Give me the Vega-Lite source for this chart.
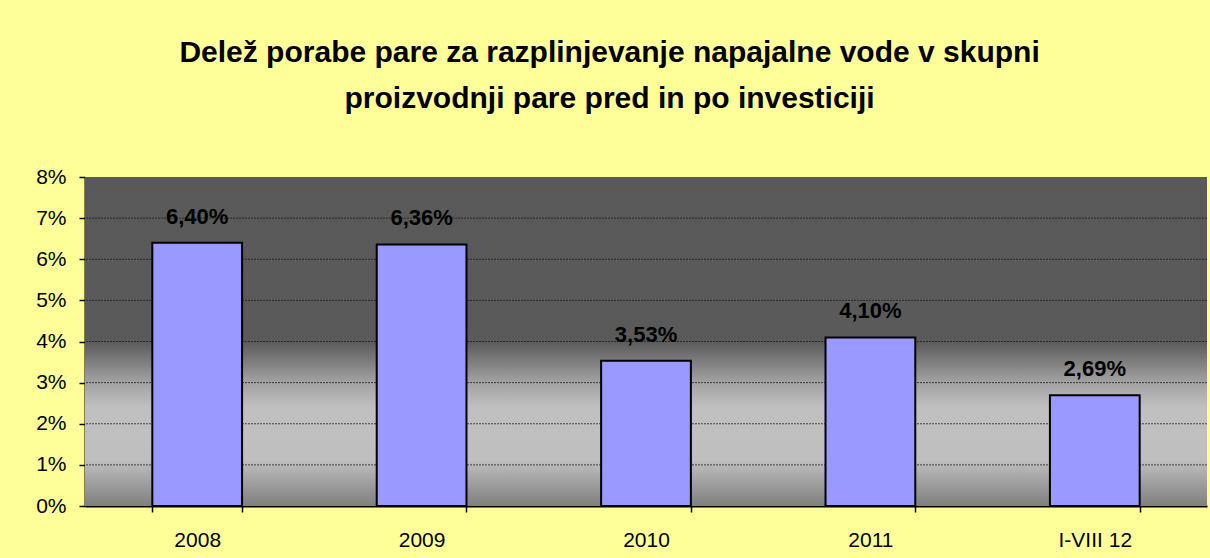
{
  "$schema": "https://vega.github.io/schema/vega-lite/v6.json",
  "autosize": {"type": "fit", "contains": "padding"},
  "width": 1210,
  "height": 558,
  "padding": {"left": 35, "top": 38, "right": 2, "bottom": 8},
  "background": "#FFFF99",
  "title": {
    "text": ["Delež porabe pare za razplinjevanje napajalne vode v skupni", "proizvodnji pare pred in po investiciji"],
    "font": "Liberation Sans",
    "fontSize": 30,
    "fontWeight": "bold",
    "color": "#000000",
    "lineHeight": 46,
    "anchor": "middle",
    "frame": "bounds",
    "dx": -12,
    "offset": 52
  },
  "data": {
    "values": [
      {"period": "2008", "share": 0.064, "label": "6,40%"},
      {"period": "2009", "share": 0.0636, "label": "6,36%"},
      {"period": "2010", "share": 0.0353, "label": "3,53%"},
      {"period": "2011", "share": 0.041, "label": "4,10%"},
      {"period": "I-VIII 12", "share": 0.0269, "label": "2,69%"}
    ]
  },
  "layer": [
    {
      "data": {"values": [{"top": 0.08, "bottom": 0}]},
      "mark": {
        "type": "rect",
        "color": {
          "gradient": "linear",
          "x1": 0, "y1": 0, "x2": 0, "y2": 1,
          "stops": [
            {"offset": 0, "color": "#595959"},
            {"offset": 0.5, "color": "#5a5a5a"},
            {"offset": 0.62, "color": "#a0a0a0"},
            {"offset": 0.7, "color": "#c0c0c0"},
            {"offset": 0.86, "color": "#bfbfbf"},
            {"offset": 1, "color": "#7f7f7f"}
          ]
        }
      },
      "encoding": {
        "y": {
          "field": "top", "type": "quantitative", "scale": {"domain": [0, 0.08]},
          "axis": {
            "title": null, "format": ".0%", "values": [0, 0.01, 0.02, 0.03, 0.04, 0.05, 0.06, 0.07, 0.08],
            "labelFont": "Liberation Sans", "labelFontSize": 21, "labelColor": "#000000",
            "domainColor": "#000000", "domainWidth": 2, "tickColor": "#000000", "tickWidth": 1.5,
            "tickSize": 6, "labelPadding": 13, "grid": false
          }
        },
        "y2": {"field": "bottom"}
      }
    },
    {
      "data": {"values": [{"g": 0.01}, {"g": 0.02}, {"g": 0.03}, {"g": 0.04}, {"g": 0.05}, {"g": 0.06}, {"g": 0.07}]},
      "mark": {"type": "rule", "color": "#1a1a1a", "strokeDash": [2, 1], "strokeWidth": 1, "opacity": 0.75},
      "encoding": {
        "y": {"field": "g", "type": "quantitative"}
      }
    },
    {
      "mark": {"type": "bar", "fill": "#9999FF", "stroke": "#000000", "strokeWidth": 2},
      "encoding": {
        "x": {
          "field": "period", "type": "nominal", "sort": null,
          "scale": {"paddingInner": 0.6, "paddingOuter": 0.3},
          "axis": {
            "title": null, "labelAngle": 0, "labelFont": "Liberation Sans", "labelFontSize": 21,
            "labelColor": "#000000", "domainColor": "#000000", "domainWidth": 2,
            "tickColor": "#000000", "tickWidth": 1.5, "tickSize": 6, "tickBand": "extent",
            "labelPadding": 17, "grid": false
          }
        },
        "y": {"field": "share", "type": "quantitative"}
      }
    },
    {
      "mark": {"type": "text", "baseline": "bottom", "dy": -14, "font": "Liberation Sans", "fontSize": 22, "fontWeight": "bold", "color": "#000000"},
      "encoding": {
        "x": {"field": "period", "type": "nominal", "sort": null},
        "y": {"field": "share", "type": "quantitative"},
        "text": {"field": "label"}
      }
    }
  ],
  "config": {"view": {"stroke": null}}
}
